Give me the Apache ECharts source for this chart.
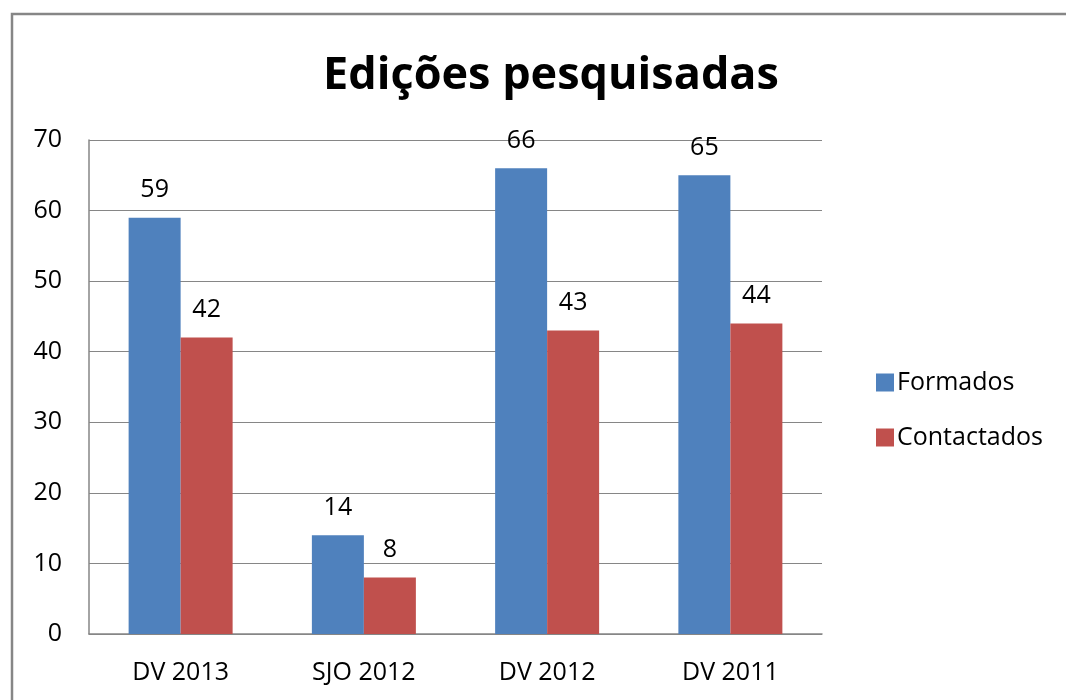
<!DOCTYPE html>
<html>
<head>
<meta charset="utf-8">
<script src="https://cdn.jsdelivr.net/npm/echarts@6/dist/echarts.min.js"></script>
<style>
  html, body { margin: 0; padding: 0; background: #fff; }
  #chart { width: 1066px; height: 700px; }
</style>
</head>
<body>
<div id="chart"></div>
<script>
// Edições pesquisadas: formados vs contactados por edição
const categories = ['DV 2013', 'SJO 2012', 'DV 2012', 'DV 2011'];
const formados = [59, 14, 66, 65];
const contactados = [42, 8, 43, 44];
const yTicks = [0, 10, 20, 30, 40, 50, 60, 70];

const font = '"Open Sans", "Noto Sans", sans-serif';
const chart = echarts.init(document.getElementById('chart'), null, { renderer: 'canvas' });

chart.setOption({
  backgroundColor: '#ffffff',
  animation: false,
  title: {
    text: 'Edições pesquisadas',
    left: 546,
    textAlign: 'center',
    top: 49,
    textStyle: { fontFamily: font, fontWeight: 'bold', fontSize: 45, color: '#000' }
  },
  graphic: [{
    type: 'rect',
    shape: { x: 12, y: 14, width: 1080, height: 720 },
    style: { fill: 'none', stroke: '#868686', lineWidth: 2.5 },
    silent: true
  }],
  legend: {
    orient: 'vertical',
    left: 871,
    top: 360,
    itemWidth: 18,
    itemHeight: 18,
    itemGap: 20,
    icon: 'rect',
    textStyle: { fontFamily: font, fontSize: 25, color: '#000', lineHeight: 35, padding: [0, 0, 0, -2] },
    data: ['Formados', 'Contactados']
  },
  grid: { left: 89, top: 140, width: 733, height: 494, containLabel: false },
  xAxis: {
    type: 'category',
    data: categories,
    axisLine: { show: true, lineStyle: { color: '#868686', width: 1.5 } },
    axisTick: { show: false },
    axisLabel: { fontFamily: font, fontSize: 25, color: '#000', margin: 26 }
  },
  yAxis: {
    type: 'value',
    min: yTicks[0],
    max: yTicks[yTicks.length - 1],
    interval: 10,
    axisLine: { show: true, lineStyle: { color: '#868686', width: 1.5 } },
    axisTick: { show: false },
    axisLabel: { fontFamily: font, fontSize: 25, color: '#000', margin: 27 },
    splitLine: { lineStyle: { color: '#868686', width: 1.2 } }
  },
  series: [
    {
      name: 'Formados',
      type: 'bar',
      data: formados,
      barWidth: 52,
      barGap: '0%',
      itemStyle: { color: '#4f81bd' },
      label: { show: true, position: 'top', distance: 15, fontFamily: font, fontSize: 25, color: '#000' }
    },
    {
      name: 'Contactados',
      type: 'bar',
      data: contactados,
      barWidth: 52,
      barGap: '0%',
      itemStyle: { color: '#c0504d' },
      label: { show: true, position: 'top', distance: 15, fontFamily: font, fontSize: 25, color: '#000' }
    }
  ]
});
</script>
</body>
</html>
